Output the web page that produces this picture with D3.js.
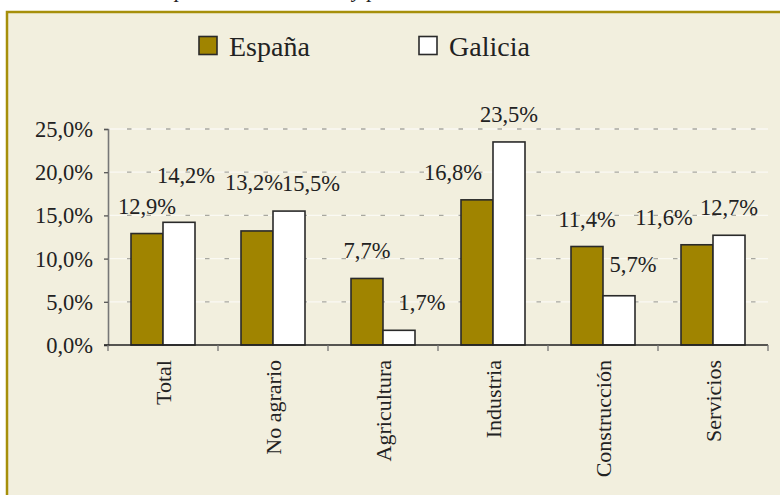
<!DOCTYPE html>
<html><head><meta charset="utf-8">
<script src="https://cdn.jsdelivr.net/npm/d3@7/dist/d3.min.js"></script>
<style>body{margin:0;background:#fff}svg{display:block}</style>
</head><body>
<svg id="c" width="780" height="495"></svg>
<script>
const categories = ["Total","No agrario","Agricultura","Industria","Construcción","Servicios"];
const seriesNames = ["España","Galicia"];
const espana = [12.9,13.2,7.7,16.8,11.4,11.6];
const galicia = [14.2,15.5,1.7,23.5,5.7,12.7];
const yTicks = [0,5,10,15,20,25];
const titleText = "Tasa de paro en el año 2008 y  por sectores";

// label nudges (px) as Excel placed them
const nudgeE = [[0,0],[-3,-21],[0,0],[-24,0],[0,0],[-33,0]];
const nudgeG = [[7,-19],[22,0],[23,0],[0,0],[14,-4],[0,0]];

const FONT = "'Liberation Serif', 'Times New Roman', 'DejaVu Serif', serif";
const svg = d3.select("#c");
const colors = ["#A08400","#FFFFFF"];
function txt(sel){ return sel.style("font-family",FONT).attr("fill","#222"); }

txt(svg.append("text")).attr("x",104).attr("y",-3)
  .style("font-style","italic").style("font-size","21.5px").text(titleText);

svg.append("rect").attr("x",7).attr("y",12).attr("width",800).attr("height",500)
  .attr("fill","#F2EFDE").attr("stroke","#A68F0A").attr("stroke-width",2.5);

const m = {l:108, r:768, t:129, b:345};
const x = d3.scaleBand().domain(categories).range([m.l,m.r]).paddingInner(0).paddingOuter(0);
const y = d3.scaleLinear().domain([0,25]).range([m.b,m.t]);
const bw = 32;

// gridlines
const g = svg.append("g");
yTicks.filter(t=>t>0).forEach(t=>{
  g.append("line").attr("x1",m.l).attr("x2",m.r).attr("y1",y(t)).attr("y2",y(t))
    .attr("stroke","#FAF9F3").attr("stroke-width",1.3);
  g.append("line").attr("x1",m.l+19).attr("x2",m.r).attr("y1",y(t)).attr("y2",y(t))
    .attr("stroke","#A8A8A0").attr("stroke-width",1.3).attr("stroke-dasharray","4.5,15");
});

// y axis
const ya = svg.append("g").attr("transform",`translate(${m.l},0)`)
  .call(d3.axisLeft(y).tickValues(yTicks).tickSize(4).tickPadding(11)
    .tickFormat(d=>d.toFixed(1).replace(".",",")+"%"));
ya.attr("font-family",null).attr("font-size",null);
ya.select(".domain").attr("stroke","#777").attr("stroke-width",1.6);
ya.selectAll(".tick line").attr("stroke","#555").attr("stroke-width",1.3);
txt(ya.selectAll("text")).style("font-size","22.5px").attr("dy","0.33em");

// bars
const data = categories.map((c,i)=>({c,i,v:[espana[i],galicia[i]]}));
data.forEach(d=>{
  d.v.forEach((v,s)=>{
    const cx = x(d.c)+x.bandwidth()/2;
    const x0 = cx - bw + s*bw;
    svg.append("rect").attr("x",x0).attr("y",y(v)).attr("width",bw).attr("height",y(0)-y(v))
      .attr("fill",colors[s]).attr("stroke","#2a2a2a").attr("stroke-width",1.6);
    const n = s===0?nudgeE[d.i]:nudgeG[d.i];
    txt(svg.append("text")).attr("x",x0+bw/2+n[0]).attr("y",y(v)-20+n[1]).attr("text-anchor","middle")
      .style("font-size","22.5px").text(v.toFixed(1).replace(".",",")+"%");
  });
});

// x axis
const xa = svg.append("g").attr("transform",`translate(0,${m.b})`);
xa.append("line").attr("x1",m.l-4).attr("x2",m.r).attr("y1",0).attr("y2",0).attr("stroke","#222").attr("stroke-width",1.6);
d3.range(categories.length+1).forEach(k=>{
  const xx = m.l + k*x.bandwidth();
  xa.append("line").attr("x1",xx).attr("x2",xx).attr("y1",0).attr("y2",6).attr("stroke","#777").attr("stroke-width",1.3);
});
categories.forEach(c=>{
  txt(xa.append("text")).attr("transform",`translate(${x(c)+x.bandwidth()/2},15) rotate(-90)`)
    .attr("text-anchor","end").attr("dy","0.35em").style("font-size","22px").text(c);
});

// legend
const lg = svg.append("g");
[[199,"España"],[419,"Galicia"]].forEach((p,s)=>{
  lg.append("rect").attr("x",p[0]).attr("y",36.5).attr("width",18).attr("height",18)
    .attr("fill",colors[s]).attr("stroke","#2a2a2a").attr("stroke-width",1.6);
  txt(lg.append("text")).attr("x",p[0]+30).attr("y",56).style("font-size","28px").text(seriesNames[s]);
});
</script>
</body></html>
